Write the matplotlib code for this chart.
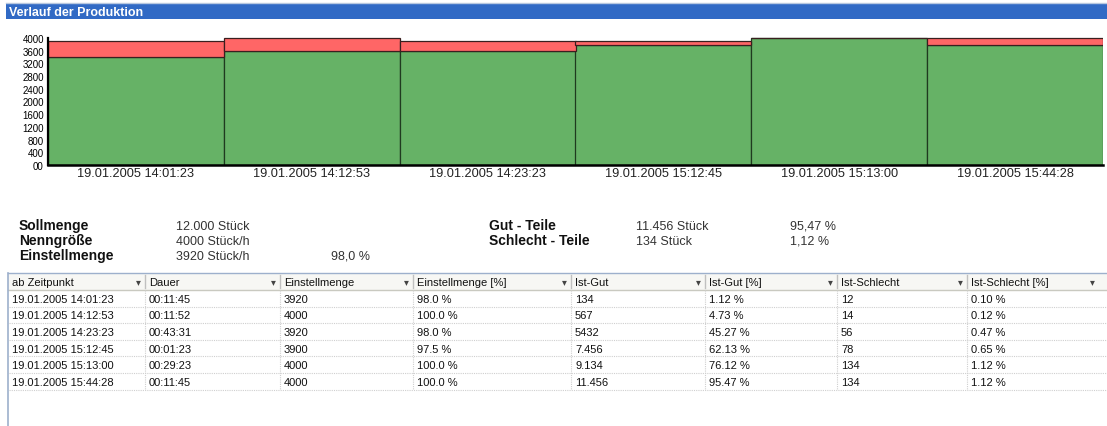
import matplotlib
matplotlib.use("Agg")
import matplotlib.pyplot as plt
from matplotlib.patches import Rectangle

W, H = 1107, 427

# ---------------- Daten ----------------
zeitpunkte = ["19.01.2005 14:01:23", "19.01.2005 14:12:53", "19.01.2005 14:23:23",
              "19.01.2005 15:12:45", "19.01.2005 15:13:00", "19.01.2005 15:44:28"]
dauer = ["00:11:45", "00:11:52", "00:43:31", "00:01:23", "00:29:23", "00:11:45"]
einstellmenge = [3920, 4000, 3920, 3900, 4000, 4000]
einstellmenge_pct = ["98.0 %", "100.0 %", "98.0 %", "97.5 %", "100.0 %", "100.0 %"]
ist_gut = ["134", "567", "5432", "7.456", "9.134", "11.456"]
ist_gut_pct = ["1.12 %", "4.73 %", "45.27 %", "62.13 %", "76.12 %", "95.47 %"]
ist_schlecht = ["12", "14", "56", "78", "134", "134"]
ist_schlecht_pct = ["0.10 %", "0.12 %", "0.47 %", "0.65 %", "1.12 %", "1.12 %"]

# gruener Anteil im Diagramm
gut_hoehe = [3410, 3580, 3580, 3790, 4000, 3790]

y_ticks = [0, 400, 800, 1200, 1600, 2000, 2400, 2800, 3200, 3600, 4000]
y_tick_labels = ["00", "400", "800", "1200", "1600", "2000", "2400", "2800", "3200", "3600", "4000"]

spalten = ["ab Zeitpunkt", "Dauer", "Einstellmenge", "Einstellmenge [%]",
           "Ist-Gut", "Ist-Gut [%]", "Ist-Schlecht", "Ist-Schlecht [%]"]

info_links = [("Sollmenge", "12.000 Stück", ""),
              ("Nenngröße", "4000 Stück/h", ""),
              ("Einstellmenge", "3920 Stück/h", "98,0 %")]
info_rechts = [("Gut - Teile", "11.456 Stück", "95,47 %"),
               ("Schlecht - Teile", "134 Stück", "1,12 %")]

FONT = ["Liberation Sans", "DejaVu Sans"]
plt.rcParams["font.family"] = FONT

fig = plt.figure(figsize=(W / 100, H / 100), dpi=100)
fig.patch.set_facecolor("white")

# Hintergrund-Achse in Pixelkoordinaten
bg = fig.add_axes([0, 0, 1, 1])
bg.set_xlim(0, W)
bg.set_ylim(H, 0)
bg.axis("off")

# Titelleiste
bg.add_patch(Rectangle((6, 4), W - 6, 16, facecolor="#316AC5", edgecolor="none"))
bg.plot([6, W], [3.5, 3.5], color="#B8C8E0", lw=1)
bg.text(9, 12.5, "Verlauf der Produktion", color="white", fontsize=9,
        fontweight="bold", va="center", ha="left")

# ---------------- Diagramm ----------------
ax_l, ax_r, ax_b, ax_t = 48, 1103, 166, 36
ymax = 4000 + (39 - ax_t) * 4000 / (ax_b - 39)
ax = fig.add_axes([ax_l / W, 1 - ax_b / H, (ax_r - ax_l) / W, (ax_b - ax_t) / H])
x = list(range(len(zeitpunkte)))
schlecht_hoehe = [e - g for e, g in zip(einstellmenge, gut_hoehe)]
ax.bar(x, gut_hoehe, width=1.0, color="#66B266", edgecolor="#1F3A1F", linewidth=0.9)
ax.bar(x, schlecht_hoehe, bottom=gut_hoehe, width=1.0, color="#FF6666",
       edgecolor="#3A1F1F", linewidth=0.9)
ax.set_xlim(-0.5, len(x) - 0.5)
ax.set_ylim(0, ymax)
ax.set_yticks(y_ticks)
ax.set_yticklabels(y_tick_labels, fontsize=7)
ax.set_xticks(x)
ax.set_xticklabels(zeitpunkte, fontsize=9.2, color="#222222")
ax.tick_params(length=0, pad=3)
ax.tick_params(axis="x", pad=1.5)
for s in ["top", "right"]:
    ax.spines[s].set_visible(False)
ax.spines["left"].set_linewidth(1.6)
ax.spines["bottom"].set_linewidth(1.8)
ax.spines["left"].set_bounds(0, 4000)
ax.set_facecolor("white")

# ---------------- Kennzahlen ----------------
for i, (lab, val, pct) in enumerate(info_links):
    yy = 230 + i * 15
    bg.text(19, yy, lab, fontsize=10, fontweight="bold", va="baseline", color="#111111")
    bg.text(176, yy, val, fontsize=9, va="baseline", color="#333333")
    if pct:
        bg.text(331, yy, pct, fontsize=9, va="baseline", color="#333333")
for i, (lab, val, pct) in enumerate(info_rechts):
    yy = 230 + i * 15
    bg.text(489, yy, lab, fontsize=10, fontweight="bold", va="baseline", color="#111111")
    bg.text(636, yy, val, fontsize=9, va="baseline", color="#333333")
    bg.text(790, yy, pct, fontsize=9, va="baseline", color="#333333")

# ---------------- Tabelle ----------------
grenzen = [8, 145, 280, 413, 571, 705, 837, 967, W + 30]
kopf_oben, kopf_unten = 274, 291
zeile_h = 16.6

bg.add_patch(Rectangle((8, kopf_oben), W - 8, kopf_unten - kopf_oben,
                       facecolor="#F7F7F4", edgecolor="none"))
bg.plot([8, W], [kopf_oben, kopf_oben], color="#9DB0CC", lw=1)
bg.plot([8, W], [kopf_unten, kopf_unten], color="#C9C9C0", lw=1)
bg.plot([8, 8], [kopf_oben, H], color="#9DB0CC", lw=1.2)

for j, name in enumerate(spalten):
    x0, x1 = grenzen[j], grenzen[j + 1]
    bg.text(x0 + 4, (kopf_oben + kopf_unten) / 2 + 0.5, name, fontsize=8, va="center",
            color="#111111")
    bg.text(min(x1, W) - 7 if x1 < W else 1092, (kopf_oben + kopf_unten) / 2,
            "▾", fontsize=7, va="center", ha="center", color="#444444",
            family=FONT)
    if j > 0:
        bg.plot([x0, x0], [kopf_oben + 2, kopf_unten - 2], color="#C0C0C0", lw=1)

zeilen = list(zip(zeitpunkte, dauer, [str(v) for v in einstellmenge], einstellmenge_pct,
                  ist_gut, ist_gut_pct, ist_schlecht, ist_schlecht_pct))
for i, zeile in enumerate(zeilen):
    y0 = kopf_unten + i * zeile_h
    for j, wert in enumerate(zeile):
        bg.text(grenzen[j] + 4, y0 + zeile_h / 2 + 0.5, wert, fontsize=8,
                va="center", color="#111111")
    bg.plot([9, W], [y0 + zeile_h, y0 + zeile_h], color="#CFCFCF", lw=0.8,
            linestyle=(0, (1, 1)))
unten = kopf_unten + len(zeilen) * zeile_h
for g in grenzen[1:-1]:
    bg.plot([g, g], [kopf_unten, unten], color="#CFCFCF", lw=0.8, linestyle=(0, (1, 1)))

fig.savefig("out.png", dpi=100)
